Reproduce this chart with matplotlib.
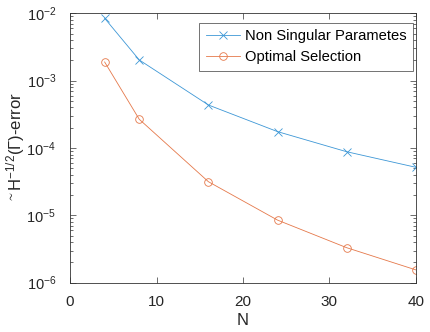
import matplotlib
matplotlib.use("Agg")
import matplotlib.pyplot as plt
from matplotlib.ticker import LogLocator, NullFormatter

plt.rcParams['font.family'] = ['Liberation Sans', 'DejaVu Sans']
plt.rcParams['mathtext.fontset'] = 'custom'
plt.rcParams['mathtext.rm'] = 'Liberation Sans'
plt.rcParams['mathtext.it'] = 'Liberation Sans'
plt.rcParams['mathtext.default'] = 'regular'

N = [4, 8, 16, 24, 32, 40]
non_singular = [8.43e-3, 2.03e-3, 4.35e-4, 1.75e-4, 8.8e-5, 5.17e-5]
optimal = [1.89e-3, 2.67e-4, 3.16e-5, 8.5e-6, 3.31e-6, 1.55e-6]

blue = '#3D97D6'
orange = '#E5784A'

fig = plt.figure(figsize=(4.3, 3.32), dpi=100)
ax = fig.add_axes([0.163, 0.1485, 0.804, 0.8115])

ax.semilogy(N, non_singular, color=blue, lw=0.6, marker='x', ms=6,
            mew=0.6, label='Non Singular Parametes')
ax.semilogy(N, optimal, color=orange, lw=0.6, marker='o', ms=5.5,
            mfc='none', mew=0.6, label='Optimal Selection')

ax.set_xlim(0, 40)
ax.set_ylim(1e-6, 1e-2)
ax.set_xticks([0, 10, 20, 30, 40])
ax.yaxis.set_major_locator(LogLocator(base=10, numticks=10))
ax.yaxis.set_minor_locator(LogLocator(base=10, subs=range(2, 10), numticks=20))
ax.yaxis.set_minor_formatter(NullFormatter())

for s in ax.spines.values():
    s.set_linewidth(0.6)
    s.set_color('#333333')
ax.tick_params(which='both', direction='in', top=True, right=True,
               width=0.5, color='#333333', labelsize=11, labelcolor='#262626')
ax.tick_params(axis='y', which='major', labelsize=10.5, pad=10)
ax.tick_params(which='major', length=4)
ax.tick_params(axis='x', which='major', pad=9)
ax.tick_params(which='minor', length=2)

ax.set_xlabel('N', fontsize=12, color='#262626', labelpad=3)
ax.set_ylabel('$^{\\sim}$H$^{-1/2}$(Γ)-error', fontsize=12, color='#262626')
ax.yaxis.set_label_coords(-0.125, 0.5)

leg = ax.legend(loc='upper right', bbox_to_anchor=(0.992, 0.965), fontsize=10.6,
                frameon=True, fancybox=False, edgecolor='#333333',
                handlelength=2.3, borderpad=0.45, labelspacing=0.45, handletextpad=0.35,
                borderaxespad=0)
leg.get_frame().set_linewidth(0.6)

fig.savefig('out.png', dpi=100)
